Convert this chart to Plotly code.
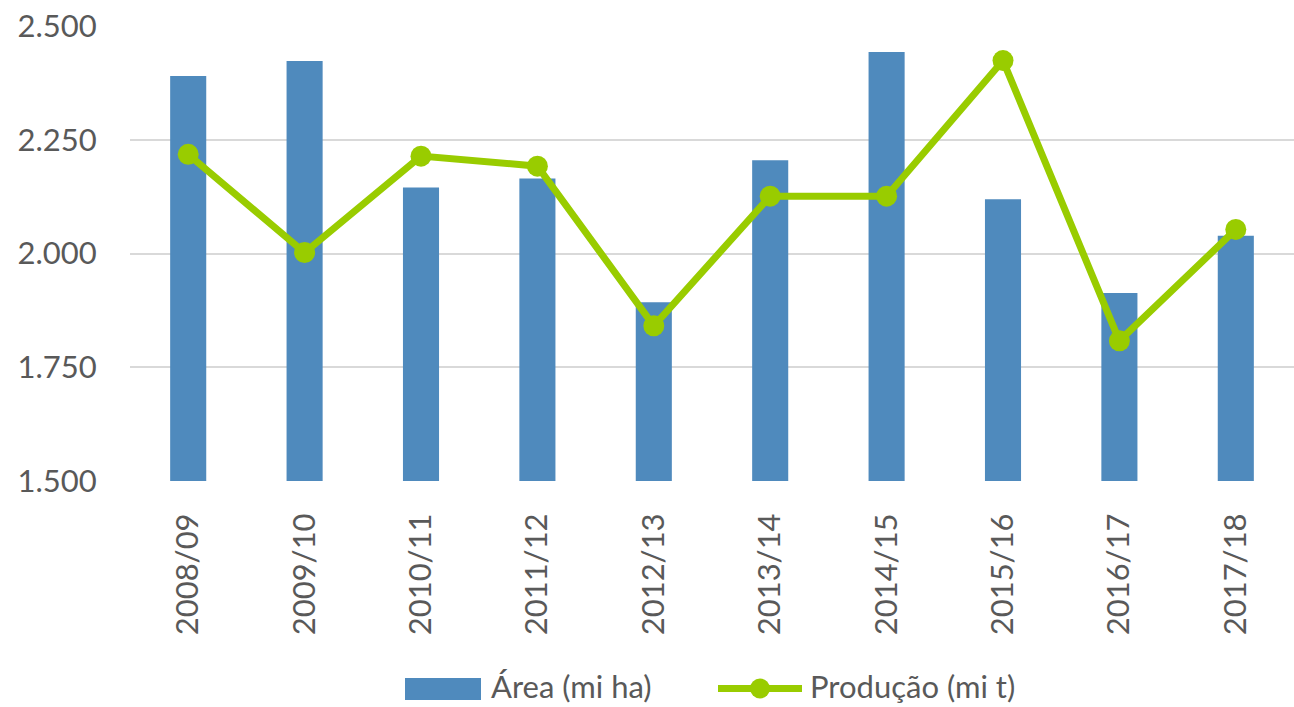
import plotly.graph_objects as go

# Safras e séries
safras = ["2008/09", "2009/10", "2010/11", "2011/12", "2012/13",
          "2013/14", "2014/15", "2015/16", "2016/17", "2017/18"]
area_mi_ha = [2390, 2423, 2145, 2165, 1893, 2205, 2443, 2119, 1913, 2039]
producao_mi_t = [2218, 2002, 2214, 2192, 1841, 2126, 2126, 2424, 1808, 2053]

FONT = "Lato, 'Open Sans', sans-serif"
TXT = "#595959"
AZUL = "#4F8ABD"
VERDE = "#99CC00"

W, H = 1294, 707
ML, MR, MT, MB = 130, 0, 26, 226
PW, PH = W - ML - MR, H - MT - MB


def px(x):
    return (x - ML) / PW


def py(y):
    return (H - MB - y) / PH


fig = go.Figure()
fig.add_trace(go.Bar(
    x=safras, y=area_mi_ha, name="Área (mi ha)",
    marker=dict(color=AZUL, line=dict(width=0)),
    width=0.31,
))
fig.add_trace(go.Scatter(
    x=safras, y=producao_mi_t, name="Produção (mi t)",
    mode="lines+markers",
    line=dict(color=VERDE, width=7),
    marker=dict(color=VERDE, size=21),
))

# Legenda desenhada abaixo do gráfico
shapes = [
    dict(type="rect", xref="paper", yref="paper",
         x0=px(405), x1=px(481), y0=py(700), y1=py(678),
         fillcolor=AZUL, line=dict(width=0)),
    dict(type="line", xref="paper", yref="paper",
         x0=px(718), x1=px(802), y0=py(688.5), y1=py(688.5),
         line=dict(color=VERDE, width=7)),
    dict(type="circle", xref="paper", yref="paper",
         x0=px(750), x1=px(770), y0=py(698.5), y1=py(678.5),
         fillcolor=VERDE, line=dict(width=0)),
]
annotations = [
    dict(text="Área (mi ha)", xref="paper", yref="paper",
         x=px(489), y=py(686), xanchor="left", yanchor="middle",
         showarrow=False, font=dict(size=31, color=TXT, family=FONT)),
    dict(text="Produção (mi t)", xref="paper", yref="paper",
         x=px(808), y=py(686), xanchor="left", yanchor="middle",
         showarrow=False, font=dict(size=31, color=TXT, family=FONT)),
]

fig.update_layout(
    width=W, height=H,
    margin=dict(l=ML, r=MR, t=MT, b=MB, autoexpand=False),
    paper_bgcolor="white", plot_bgcolor="white",
    separators=",.",
    font=dict(family=FONT, color=TXT, size=31),
    showlegend=False,
    shapes=shapes,
    annotations=annotations,
    xaxis=dict(tickangle=-90, showgrid=False, showline=False,
               range=[-0.5, len(safras) - 0.5],
               automargin=False, ticks="outside", ticklen=19,
               tickcolor="rgba(0,0,0,0)",
               tickfont=dict(size=31, color=TXT)),
    yaxis=dict(range=[1500, 2500], dtick=250, tick0=1500,
               tickformat=",d", showgrid=True, gridcolor="#D9D9D9",
               gridwidth=2, zeroline=False, showline=False,
               automargin=False, ticks="outside", ticklen=26,
               tickcolor="rgba(0,0,0,0)",
               tickfont=dict(size=31, color=TXT)),
)

fig.write_html("out.html")
